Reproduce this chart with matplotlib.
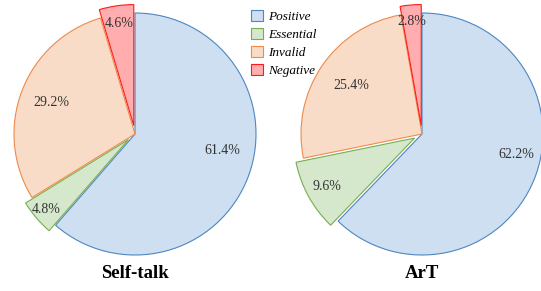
import matplotlib.pyplot as plt
import numpy as np

plt.rcParams['font.family'] = ['Liberation Serif', 'DejaVu Serif']

# data
categories = ["Positive", "Essential", "Invalid", "Negative"]
selftalk_vals = [61.4, 4.8, 29.2, 4.6]
art_vals = [62.2, 9.6, 25.4, 2.8]
titles = ["Self-talk", "ArT"]

face_colors = ["#cddff1", "#d5e8cc", "#f9dcc8", "#ffadae"]
edge_colors = ["#4f86c0", "#78ad52", "#ef8a4a", "#ff1a1a"]
explode = [0, 0.07, 0, 0.07]
# label placement (fraction of radius, angle nudge in degrees)
label_dist = [[0.73, 0.89, 0.74, 0.85],
              [0.80, 0.83, 0.71, 0.86]]
label_shift = [10, 0, 0, 0]

fig = plt.figure(figsize=(5.41, 2.91), dpi=100)
W, H = 541, 291
r_px = 121
centers = [(135, 157), (422, 157)]
half = 1.14


def draw_pie(ax, vals, dists):
    wedges, _ = ax.pie(vals, explode=explode, colors=face_colors, startangle=90,
                       counterclock=False, radius=1,
                       wedgeprops=dict(linewidth=0.8))
    for w, ec in zip(wedges, edge_colors):
        w.set_edgecolor(ec)
        w.set_clip_on(False)
    for w, v, d, sh in zip(wedges, vals, dists, label_shift):
        ang = np.deg2rad((w.theta1 + w.theta2) / 2 + sh)
        cx, cy = w.center
        ax.text(cx + d * np.cos(ang), cy + d * np.sin(ang), f"{v:.1f}%",
                ha="center", va="center", fontsize=10, color="#333333")
    ax.set_xlim(-half, half)
    ax.set_ylim(-half, half)
    ax.set_aspect("equal")
    ax.axis("off")
    return wedges


all_vals = [selftalk_vals, art_vals]
for i, (cx, cy) in enumerate(centers):
    s = half * r_px
    ax = fig.add_axes([(cx - s) / W, (cy - s) / H, 2 * s / W, 2 * s / H])
    wedges = draw_pie(ax, all_vals[i], label_dist[i])
    fig.text(cx / W, 18 / H, titles[i], ha="center", va="center",
             fontsize=13.5, fontweight="bold")

leg = fig.legend(wedges, categories, loc="upper left",
                 bbox_to_anchor=(241 / W, 1.0), frameon=False,
                 prop=dict(style="italic", size=9.5), handlelength=0.9,
                 handleheight=0.9, handletextpad=0.4, labelspacing=0.38,
                 borderpad=0.25)

fig.savefig("out.png", dpi=100)
